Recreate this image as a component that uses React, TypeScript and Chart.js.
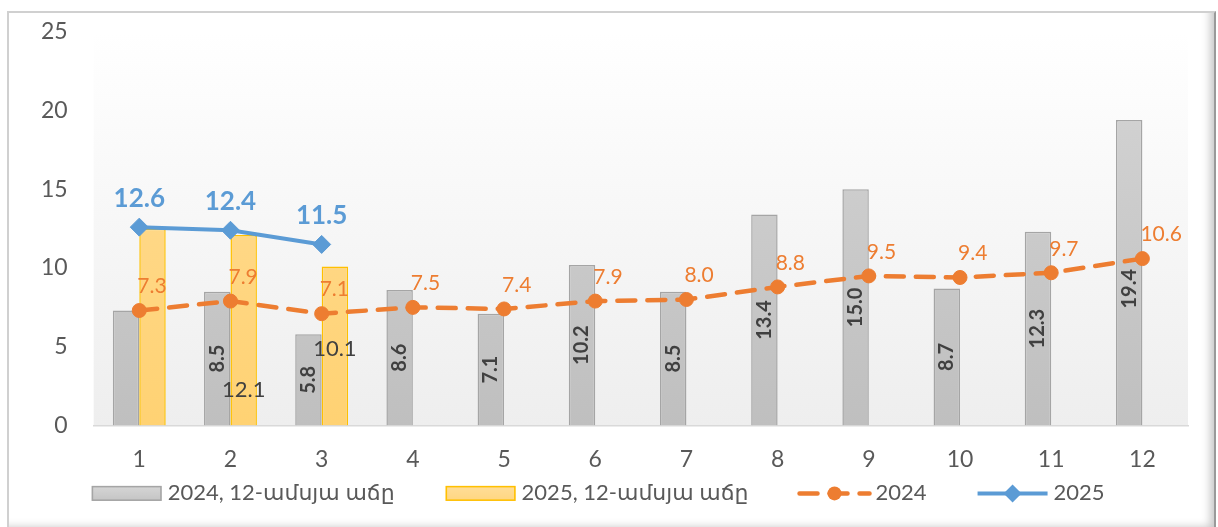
import React, { useEffect, useRef } from 'react';
import { Chart, registerables } from 'chart.js';

Chart.register(...registerables);

// ---- data ----
const months = ['1', '2', '3', '4', '5', '6', '7', '8', '9', '10', '11', '12'];
const bars2024 = [7.3, 8.5, 5.8, 8.6, 7.1, 10.2, 8.5, 13.4, 15.0, 8.7, 12.3, 19.4];
const bars2025 = [12.5, 12.1, 10.1];
const line2024 = [7.3, 7.9, 7.1, 7.5, 7.4, 7.9, 8.0, 8.8, 9.5, 9.4, 9.7, 10.6];
const line2025 = [12.6, 12.4, 11.5];
const seriesNames = ['2024, 12-ամսյա աճը', '2025, 12-ամսյա աճը', '2024', '2025'];
const yMin = 0;
const yMax = 25;
const yStep = 5;

// ---- style ----
const FONT = 'Lato, "DejaVu Sans", sans-serif';
const TEXT = '#595959';
const ORANGE = '#ED7D31';
const BLUE = '#5B9BD5';
const GRAY_BORDER = '#a5a5a5';
const YELLOW_BORDER = '#FFC000';
// label vertical shifts in px (labels hidden for first month bars)
const yellowLabelShift = [0, 60, 3];
const grayLabelShift = [0, 0, 0, 0, 0, 0, 0, 0, 0, 0, 0, 16];

function vGrad(chart: any, top: string, bottom: string) {
  const area = chart.chartArea;
  if (!area) return top;
  const g = chart.ctx.createLinearGradient(0, area.top, 0, area.bottom);
  g.addColorStop(0, top);
  g.addColorStop(1, bottom);
  return g;
}

const bgPlugin = {
  id: 'plotBg',
  beforeDraw(chart: any) {
    const { ctx, chartArea: a } = chart;
    ctx.save();
    const g = ctx.createLinearGradient(0, a.top, 0, a.bottom);
    g.addColorStop(0, '#ffffff');
    g.addColorStop(1, '#eeeeee');
    ctx.fillStyle = g;
    ctx.fillRect(a.left, a.top, a.right - a.left, a.bottom - a.top);
    ctx.restore();
  },
};

const labelPlugin = {
  id: 'valueLabels',
  afterDatasetsDraw(chart: any) {
    const ctx = chart.ctx;
    ctx.save();
    // gray bars: rotated, centered
    const mGray = chart.getDatasetMeta(0);
    ctx.font = `bold 20px ${FONT}`;
    ctx.fillStyle = '#404040';
    ctx.textAlign = 'center';
    ctx.textBaseline = 'middle';
    mGray.data.forEach((el: any, i: number) => {
      if (i === 0) return;
      const cy = (el.y + el.base) / 2 + (grayLabelShift[i] || 0);
      ctx.save();
      ctx.translate(el.x, cy);
      ctx.rotate(-Math.PI / 2);
      ctx.fillText(bars2024[i].toFixed(1), 0, 0);
      ctx.restore();
    });
    // yellow bars
    const mY = chart.getDatasetMeta(1);
    ctx.font = `22px ${FONT}`;
    ctx.fillStyle = '#404040';
    mY.data.forEach((el: any, i: number) => {
      if (i === 0) return;
      const cy = (el.y + el.base) / 2 + (yellowLabelShift[i] || 0);
      ctx.fillText(bars2025[i].toFixed(1), el.x, cy);
    });
    // orange line
    const mO = chart.getDatasetMeta(2);
    ctx.font = `21px ${FONT}`;
    ctx.fillStyle = ORANGE;
    ctx.textAlign = 'left';
    mO.data.forEach((el: any, i: number) => {
      ctx.fillText(line2024[i].toFixed(1), el.x - 2, el.y - 24);
    });
    // blue line
    const mB = chart.getDatasetMeta(3);
    ctx.font = `bold 26px ${FONT}`;
    ctx.fillStyle = BLUE;
    ctx.textAlign = 'center';
    mB.data.forEach((el: any, i: number) => {
      ctx.fillText(line2025[i].toFixed(1), el.x, el.y - 29);
    });
    ctx.restore();
  },
};

function drawSymbol(ctx: CanvasRenderingContext2D, ds: any, x: number, y: number, w: number) {
  ctx.save();
  if (ds.type === 'bar') {
    const g = ctx.createLinearGradient(0, y - 7.5, 0, y + 7.5);
    g.addColorStop(0, ds.legendTop);
    g.addColorStop(1, ds.legendBottom);
    ctx.fillStyle = g;
    ctx.fillRect(x, y - 7.5, w, 15);
    ctx.strokeStyle = ds.borderColor;
    ctx.lineWidth = 1.5;
    ctx.strokeRect(x + 0.75, y - 6.75, w - 1.5, 13.5);
  } else {
    ctx.strokeStyle = ds.borderColor;
    ctx.fillStyle = ds.borderColor;
    ctx.lineWidth = ds.borderWidth;
    ctx.lineCap = ds.borderCapStyle || 'butt';
    if (ds.borderDash) ctx.setLineDash(ds.borderDash);
    ctx.beginPath();
    ctx.moveTo(x, y);
    ctx.lineTo(x + w, y);
    ctx.stroke();
    ctx.setLineDash([]);
    const cx = x + w / 2;
    const r = ds.pointRadius;
    ctx.beginPath();
    if (ds.pointStyle === 'rectRot') {
      ctx.moveTo(cx, y - r);
      ctx.lineTo(cx + r, y);
      ctx.lineTo(cx, y + r);
      ctx.lineTo(cx - r, y);
      ctx.closePath();
    } else {
      ctx.arc(cx, y, r, 0, Math.PI * 2);
    }
    ctx.fill();
  }
  ctx.restore();
}

const legendPlugin = {
  id: 'bottomLegend',
  afterDraw(chart: any) {
    const ctx = chart.ctx;
    const a = chart.chartArea;
    const y = a.bottom + 68;
    let x = a.left - 2;
    const symW = 70;
    ctx.save();
    ctx.font = `22px ${FONT}`;
    ctx.fillStyle = TEXT;
    ctx.textBaseline = 'middle';
    ctx.textAlign = 'left';
    chart.data.datasets.forEach((ds: any) => {
      drawSymbol(ctx, ds, x, y, symW);
      x += symW + 6;
      ctx.fillStyle = TEXT;
      ctx.fillText(ds.label, x, y);
      x += ctx.measureText(ds.label).width + 51;
    });
    ctx.restore();
  },
};

export default function App() {
  const ref = useRef<HTMLCanvasElement>(null);
  useEffect(() => {
    const chart = new Chart(ref.current as HTMLCanvasElement, {
      type: 'bar',
      data: {
        labels: months,
        datasets: [
          {
            type: 'bar',
            label: seriesNames[0],
            data: bars2024,
            order: 3,
            backgroundColor: (c: any) => vGrad(c.chart, '#d6d6d6', '#bfbfbf'),
            borderColor: GRAY_BORDER,
            borderWidth: 1.5,
            legendTop: '#d6d6d6',
            legendBottom: '#c4c4c4',
          } as any,
          {
            type: 'bar',
            label: seriesNames[1],
            data: bars2025,
            order: 4,
            backgroundColor: (c: any) => vGrad(c.chart, '#ffdd99', '#ffd273'),
            borderColor: YELLOW_BORDER,
            borderWidth: 1.5,
            legendTop: '#ffdd99',
            legendBottom: '#ffd680',
          } as any,
          {
            type: 'line',
            label: seriesNames[2],
            data: line2024,
            order: 2,
            borderColor: ORANGE,
            backgroundColor: ORANGE,
            borderWidth: 4.5,
            borderDash: [18, 12],
            borderCapStyle: 'round',
            pointStyle: 'circle',
            pointRadius: 7,
            pointBackgroundColor: ORANGE,
            pointBorderColor: ORANGE,
            pointBorderWidth: 1,
            tension: 0,
          } as any,
          {
            type: 'line',
            label: seriesNames[3],
            data: line2025,
            order: 1,
            borderColor: BLUE,
            backgroundColor: BLUE,
            borderWidth: 4,
            pointStyle: 'rectRot',
            pointRadius: 9,
            pointBackgroundColor: BLUE,
            pointBorderColor: BLUE,
            pointBorderWidth: 1,
            tension: 0,
          } as any,
        ],
      },
      options: {
        responsive: false,
        animation: false,
        layout: { padding: { left: 7, right: 15, top: 21, bottom: 23 } },
        datasets: {
          bar: { categoryPercentage: 0.58, barPercentage: 1, borderSkipped: 'bottom' },
        } as any,
        plugins: {
          legend: { display: false },
          tooltip: { enabled: false },
          title: { display: false },
        },
        scales: {
          x: {
            grid: { display: false, drawTicks: false },
            border: { display: true, color: '#d9d9d9', width: 1.5 },
            ticks: { color: TEXT, font: { family: FONT, size: 23 }, padding: 20 },
          },
          y: {
            min: yMin,
            max: yMax,
            grid: { display: false, drawTicks: false },
            border: { display: false },
            ticks: { stepSize: yStep, color: TEXT, font: { family: FONT, size: 23 }, padding: 26 },
            afterFit: (scale: any) => {
              scale.paddingTop = 0;
            },
          },
        },
      },
      plugins: [bgPlugin, labelPlugin, legendPlugin],
    });
    return () => chart.destroy();
  }, []);

  return (
    <div style={{ position: 'absolute', left: 0, top: 0, width: 1218, height: 527, overflow: 'hidden', background: '#fff' }}>
      <div
        style={{
          position: 'absolute',
          left: 7,
          top: 11,
          width: 1209,
          height: 522,
          boxSizing: 'border-box',
          borderLeft: '2px solid #d0d0d0',
          borderTop: '2px solid #d0d0d0',
          borderRight: '2px solid #9a9a9a',
          boxShadow: 'inset -10px -12px 9px -6px rgba(0,0,0,0.22)',
        }}
      />
      <canvas
        ref={ref}
        width={1195}
        height={505}
        style={{ position: 'absolute', left: 8, top: 11, width: 1195, height: 505 }}
      />
    </div>
  );
}
